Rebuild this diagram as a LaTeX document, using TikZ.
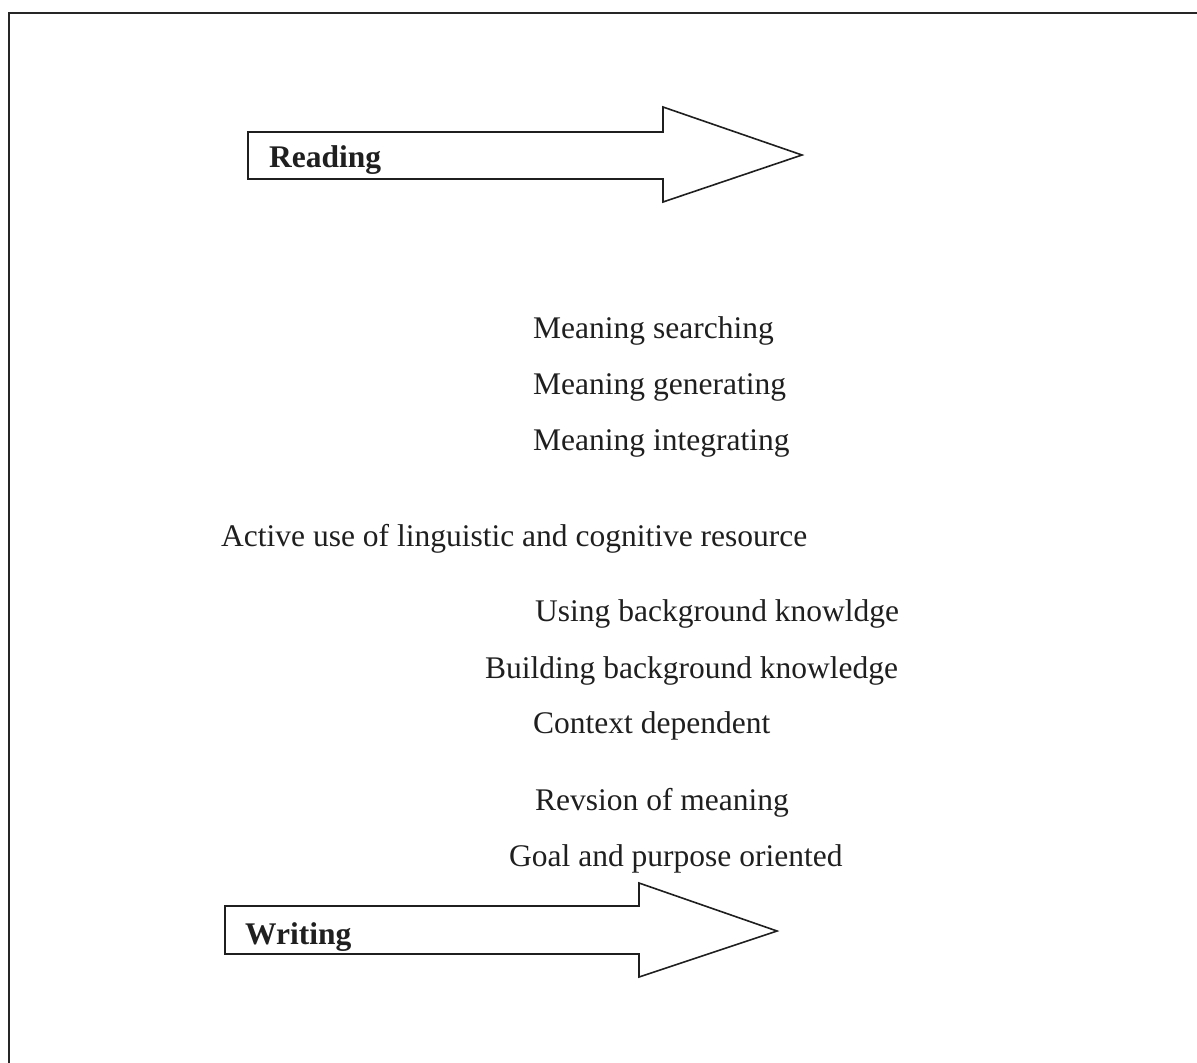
\documentclass[tikz,border=0pt]{standalone}
\usepackage{fontspec}
\setmainfont{Liberation Serif}
\tikzset{
  lbl/.style={anchor=base west, inner sep=0pt, font=\fontsize{31.5}{36}\selectfont, text=black!88},
  arrowlbl/.style={lbl, font=\fontsize{31.5}{36}\selectfont\bfseries},
  blockarrow/.style={draw=black!88, line width=1.6pt, line join=miter, fill=white}
}
\begin{document}
\begin{tikzpicture}[x=1pt, y=-1pt]
  \useasboundingbox (0,0) rectangle (1197,1063);
  % frame (only top and left edges are in view)
  \draw[line width=2.2pt, black!85] (9,1063) -- (9,13) -- (1197,13);

  % Reading arrow
  \draw[blockarrow] (248,132) -- (663,132) -- (663,107) -- (802,155)
    -- (663,202) -- (663,179) -- (248,179) -- cycle;
  \node[arrowlbl] (reading) at (269,167) {Reading};

  % middle texts
  \node[lbl] (search)  at (533,338) {Meaning searching};
  \node[lbl] (generate) at (533,394) {Meaning generating};
  \node[lbl] (integrate) at (533,450) {Meaning integrating};
  \node[lbl] (active)  at (221,546) {Active use of linguistic and cognitive resource};
  \node[lbl] (usebg)   at (535,621) {Using background knowldge};
  \node[lbl] (buildbg) at (485,678) {Building background knowledge};
  \node[lbl] (context) at (533,733) {Context dependent};
  \node[lbl] (revision) at (535,810) {Revsion of meaning};
  \node[lbl] (goal)    at (509,866) {Goal and purpose oriented};

  % Writing arrow
  \draw[blockarrow] (225,906) -- (639,906) -- (639,883) -- (777,931)
    -- (639,977) -- (639,954) -- (225,954) -- cycle;
  \node[arrowlbl] (writing) at (245,944) {Writing};
\end{tikzpicture}
\end{document}
